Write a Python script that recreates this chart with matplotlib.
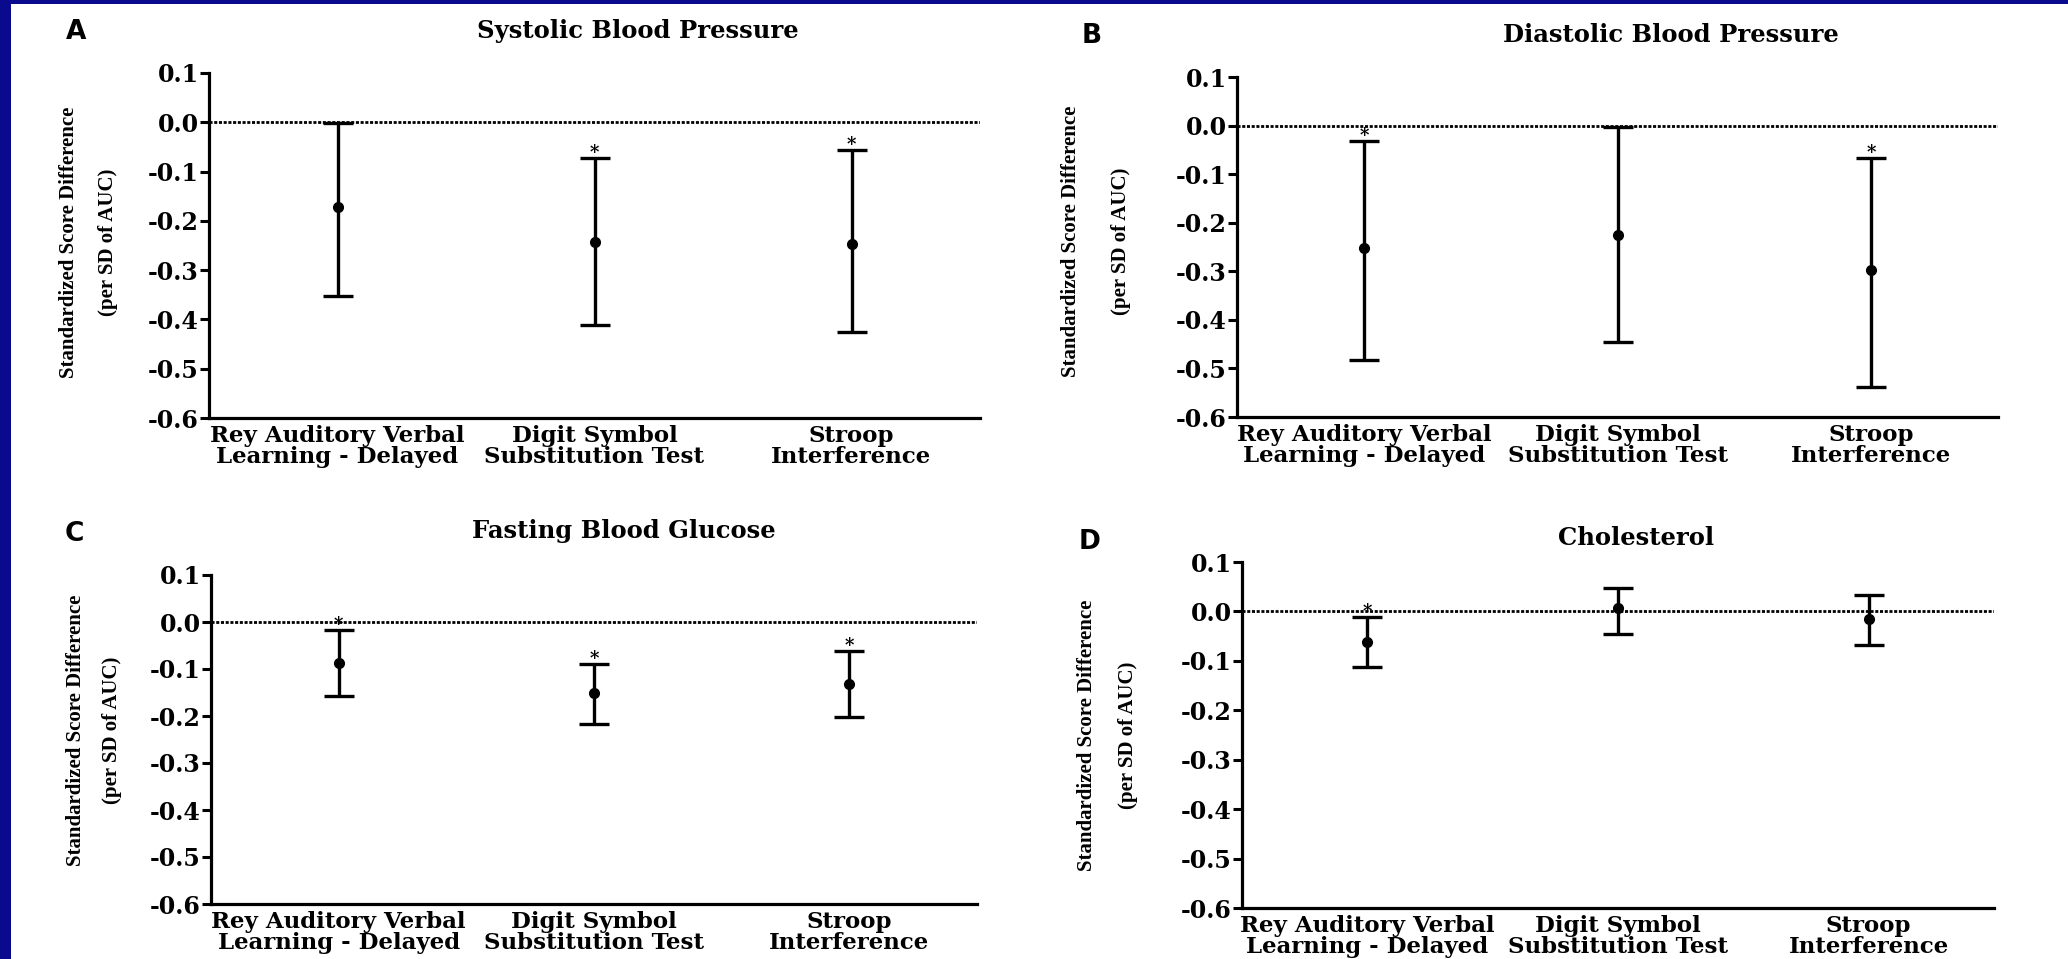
import matplotlib.pyplot as plt
from matplotlib.patches import Rectangle

plt.rcParams['axes.unicode_minus'] = False

# categories and axis labels
categories = ['Rey Auditory Verbal\nLearning - Delayed',
              'Digit Symbol\nSubstitution Test',
              'Stroop\nInterference']
ytick_values = [0.1, 0.0, -0.1, -0.2, -0.3, -0.4, -0.5, -0.6]
ytick_labels = ['0.1', '0.0', '-0.1', '-0.2', '-0.3', '-0.4', '-0.5', '-0.6']
ylabel_lines = ['Standardized Score Difference', '(per SD of AUC)']

titles = ['Systolic Blood Pressure', 'Diastolic Blood Pressure',
          'Fasting Blood Glucose', 'Cholesterol']
letters = ['A', 'B', 'C', 'D']

# estimate, lower and upper limit of the interval, significance star
sbp_mean = [-0.171, -0.243, -0.246]
sbp_low = [-0.352, -0.412, -0.426]
sbp_high = [-0.002, -0.073, -0.056]
sbp_sig = [False, True, True]

dbp_mean = [-0.253, -0.225, -0.298]
dbp_low = [-0.483, -0.445, -0.538]
dbp_high = [-0.031, -0.003, -0.067]
dbp_sig = [True, False, True]

fbg_mean = [-0.088, -0.150, -0.131]
fbg_low = [-0.158, -0.218, -0.202]
fbg_high = [-0.018, -0.090, -0.062]
fbg_sig = [True, True, True]

chol_mean = [-0.062, 0.006, -0.016]
chol_low = [-0.112, -0.045, -0.068]
chol_high = [-0.012, 0.047, 0.034]
chol_sig = [True, False, False]

W, H = 2068, 959
fig = plt.figure(figsize=(W / 100, H / 100), dpi=100)
fig.patch.set_facecolor('#0a0a8e')
fig.add_artist(Rectangle((11 / W, 0), 1 - 11 / W, 1 - 4 / H,
                         transform=fig.transFigure, facecolor='white',
                         edgecolor='none', zorder=0))

serif = 'DejaVu Serif'


def px(x, y):
    return x / W, 1 - y / H


def draw_panel(box, mean, low, high, sig, title, title_xy, letter, letter_xy, ylab_x, ylab_y):
    left, right, top, bottom = box
    ax = fig.add_axes([left / W, 1 - bottom / H, (right - left) / W, (bottom - top) / H])
    ax.patch.set_alpha(0)

    x = list(range(len(categories)))
    yerr = [[m - l for m, l in zip(mean, low)], [h - m for m, h in zip(mean, high)]]
    ax.axhline(0, color='black', lw=2.0, ls=(0, (1.1, 0.6)), zorder=2)
    ax.errorbar(x, mean, yerr=yerr, fmt='o', color='black', ms=7,
                elinewidth=2.4, capsize=10.5, capthick=2.4, zorder=3)
    for xi, h, s in zip(x, high, sig):
        if s:
            ax.annotate('*', (xi, h), xytext=(0, 0), textcoords='offset points',
                        ha='center', va='baseline', fontsize=13,
                        fontweight='bold', family=serif)

    ax.set_xlim(-0.5, 2.5)
    ax.set_ylim(-0.6, 0.1)
    ax.set_xticks(x)
    ax.set_xticklabels(categories, family=serif, fontweight='bold',
                       fontsize=16.5, linespacing=0.95)
    ax.set_yticks(ytick_values)
    ax.set_yticklabels(ytick_labels, family=serif, fontweight='bold', fontsize=17)
    ax.tick_params(axis='x', length=0, pad=5)
    ax.tick_params(axis='y', length=6.5, width=2.2, pad=1)
    for side in ['top', 'right']:
        ax.spines[side].set_visible(False)
    for side in ['left', 'bottom']:
        ax.spines[side].set_linewidth(2.3)

    fig.text(*px(*title_xy), title, ha='center', va='center',
             family=serif, fontweight='bold', fontsize=17.5)
    fig.text(*px(*letter_xy), letter, ha='center', va='center',
             family='DejaVu Sans', fontweight='heavy', fontsize=19)
    for lx, line in zip(ylab_x, ylabel_lines):
        fig.text(*px(lx, ylab_y), line, rotation=90, ha='center', va='center',
                 family='Liberation Serif', fontweight='bold', fontsize=15)
    return ax


draw_panel((209, 980, 73, 418), sbp_mean, sbp_low, sbp_high, sbp_sig,
           titles[0], (638, 31), letters[0], (76, 32), (69, 108), 242)
draw_panel((1237, 1998, 77, 417), dbp_mean, dbp_low, dbp_high, dbp_sig,
           titles[1], (1671, 35), letters[1], (1092, 36), (1071, 1121), 241)
draw_panel((211, 977, 575, 904), fbg_mean, fbg_low, fbg_high, fbg_sig,
           titles[2], (624, 531), letters[2], (74, 534), (76, 112), 730)
draw_panel((1242, 1994, 562, 908), chol_mean, chol_low, chol_high, chol_sig,
           titles[3], (1636, 538), letters[3], (1090, 542), (1087, 1128), 735)

fig.savefig('out.png', dpi=100, facecolor=fig.get_facecolor())
